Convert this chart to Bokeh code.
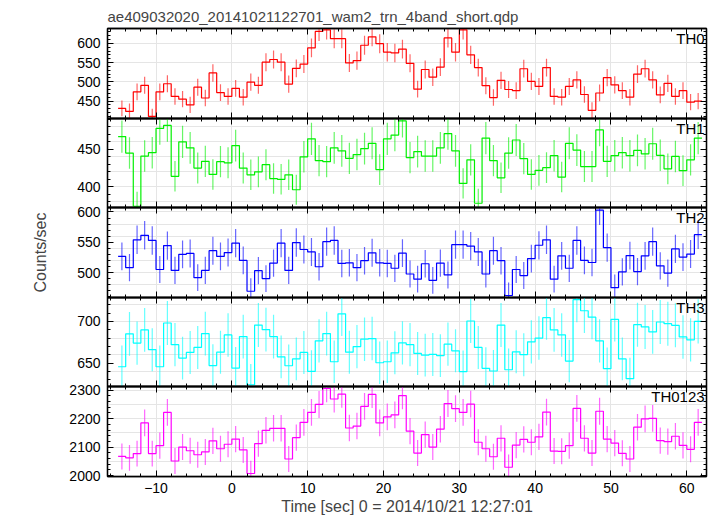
import numpy as np
from bokeh.plotting import figure
from bokeh.layouts import column
from bokeh.models import LinearAxis, Range1d, FixedTicker, Label, ColumnDataSource
from bokeh.embed import file_html
from bokeh.resources import INLINE

# ---------------- data (1 s bins, rate in counts/sec) ----------------
t_edges = list(range(-15, 63))          # bin edges [sec]

th0 = [431, 423, 474, 491, 410, 474, 495, 462, 455, 440, 486, 458, 523, 472, 462,
       483, 460, 499, 491, 551, 558, 551, 494, 535, 546, 588, 631, 635, 612, 612,
       549, 555, 595, 617, 599, 577, 575, 585, 548,
       481, 532, 512, 538, 614, 577, 635, 570, 537, 490, 459, 504, 480, 477, 534,
       501, 488, 537, 462, 460, 488, 505, 467, 426, 471, 511, 492, 477, 460, 520,
       534, 505, 466, 496, 462, 477, 447, 450]

th1 = [467, 445, 374, 441, 445.5, 478, 482, 414, 460, 452, 425, 434, 416.5, 433.5, 432,
       455, 425, 416, 420, 429.5, 411, 410, 416, 396, 440, 464, 435, 433.5, 452, 448,
       438, 443, 451, 458, 423, 464, 469, 488, 439,
       447, 441, 441, 452, 471, 448, 404.5, 436, 378, 465, 435, 412, 445, 462.5, 437.5,
       416.5, 422, 425.5, 441.5, 413, 458, 449, 427, 427, 476, 434, 441.5, 445.5, 441.5,
       448.5, 444, 457.5, 442, 424, 440.5, 421.5, 436, 465]

th2 = [526.5, 508, 554, 561.5, 553, 505, 544.5, 503.5, 530, 531.5, 491.5, 503.5, 536, 526.5, 533,
       548.5, 520, 469, 503, 490, 515.5, 548.5, 503.5, 549.5, 538, 534, 509.5, 551, 553, 515,
       516, 508, 519.5, 532.5, 516, 515, 507, 532, 497.5,
       489, 514.5, 487, 515.5, 496, 546, 546, 543.5, 534, 497.5, 536, 519.5, 462, 505, 495,
       523, 545, 554, 489, 527.5, 507, 553, 520, 516.5, 603, 541, 475, 501, 528,
       501.5, 527.5, 551, 511, 499, 539, 525.5, 530.5, 562.5]

th3 = [645.6, 685, 674, 689.7, 666, 645.6, 698, 672, 656, 662.7, 668.7, 685.3, 647, 663, 683.7,
       644, 681.7, 624, 695.6, 690, 681.7, 657.5, 646.8, 655, 662.7, 640, 676.6, 685.3, 651.6, 709,
       663, 669.8, 678.6, 679.4, 650.4, 651.6, 662.3, 674.2, 672,
       661.5, 659.5, 660.3, 659, 672.6, 664.7, 639.7, 700.4, 668.7, 643.7, 640.5, 695.6, 642, 663.5, 660,
       675.4, 680, 704.4, 689.7, 683.7, 652.4, 726, 712.7, 705, 676.6, 643.3, 702.4, 655, 631.3,
       696, 693.3, 687.3, 699.2, 697.2, 695.2, 681.3, 677.8, 700]

th0123 = [2067, 2062, 2077, 2185, 2077, 2105, 2222, 2051, 2100, 2087, 2073, 2083, 2122, 2094, 2110,
          2128, 2090, 2007, 2112, 2159, 2166, 2166, 2058, 2133, 2187, 2222, 2250, 2306, 2269, 2286,
          2167, 2174, 2243, 2285, 2185, 2206, 2213, 2281, 2156,
          2079, 2144, 2100, 2163, 2253, 2235, 2222, 2251, 2117, 2094, 2066, 2131, 2029, 2107, 2127,
          2117, 2136, 2223, 2086, 2085, 2105, 2236, 2131, 2079, 2226, 2128, 2114, 2078, 2058,
          2170, 2199, 2201, 2123, 2119, 2138, 2106, 2092, 2187]

band_names = ["TH0", "TH1", "TH2", "TH3", "TH0123"]
x_major = [-10, 0, 10, 20, 30, 40, 50, 60]
x_minor = list(range(-16, 63, 2))
y_major = [[450, 500, 550, 600], [400, 450], [500, 550, 600], [650, 700], [2000, 2100, 2200, 2300]]
y_minor = [list(range(410, 640, 10)), list(range(380, 491, 10)), list(range(460, 610, 10)),
           list(range(630, 730, 10)), list(range(2000, 2311, 20))]

title_text = "ae409032020_20141021122701_wam2_trn_4band_short.qdp"
xlabel = "Time [sec] 0 = 2014/10/21 12:27:01"
ylabel = "Counts/sec"

# ---------------- styling ----------------
FONT = "Liberation Sans"
colors = ["#ff0000", "#00f000", "#0000ff", "#00ffff", "#ff00ff"]
y_ranges = [(404.7, 638.5), (372.3, 491.2), (458.7, 607.4), (621.9, 728.6), (1996.5, 2313.0)]
frame_h = [90, 89, 90, 89, 90]
x_range = Range1d(-16.4, 62.6)
B = 8   # hidden overlap border between stacked panels

edges = np.array(t_edges, dtype=float)
centers = 0.5 * (edges[:-1] + edges[1:])
dt = edges[1:] - edges[:-1]


def make_axis(major, minor, labels, overrides=None, size="14px", standoff=7):
    ax = LinearAxis(ticker=FixedTicker(ticks=major, minor_ticks=minor))
    ax.major_tick_in = 6
    ax.major_tick_out = 0
    ax.minor_tick_in = 3
    ax.minor_tick_out = 0
    ax.axis_line_color = "black"
    ax.axis_line_width = 1.3
    ax.major_tick_line_color = "black"
    ax.minor_tick_line_color = "black"
    if labels:
        ax.major_label_text_font = FONT
        ax.major_label_text_font_size = size
        ax.major_label_text_color = "black"
        ax.major_label_standoff = standoff
        if overrides:
            ax.major_label_overrides = overrides
    else:
        ax.major_label_text_font_size = "0px"
        ax.major_label_text_color = None
        ax.major_label_text_alpha = 0
        ax.major_label_standoff = 0
    return ax


series = [th0, th1, th2, th3, th0123]
figs = []
for k in range(5):
    rate = np.array(series[k], dtype=float)
    err = np.sqrt(rate * dt) / dt   # Poisson error of the 1 s bins
    p = figure(frame_width=599, frame_height=frame_h[k], x_range=x_range,
               y_range=Range1d(*y_ranges[k]), output_backend="svg", toolbar_location=None,
               x_axis_location=None, y_axis_location=None,
               min_border_left=107, min_border_right=8,
               min_border_top=28 if k == 0 else B,
               min_border_bottom=0 if k == 4 else B,
               title=title_text if k == 0 else None)
    if k > 0:
        p.margin = (-2 * B, 0, 0, 0)
    p.background_fill_color = None
    p.border_fill_color = None
    p.outline_line_color = "black"
    p.outline_line_width = 1.3

    # axes
    left = make_axis(y_major[k], y_minor[k], True)
    if k == 2:
        left.axis_label = ylabel
        left.axis_label_text_font = FONT
        left.axis_label_text_font_size = "16px"
        left.axis_label_text_font_style = "normal"
        left.axis_label_standoff = 25
    p.add_layout(left, "left")
    p.add_layout(make_axis(y_major[k], y_minor[k], False), "right")
    p.add_layout(make_axis(x_major, x_minor, False), "above")
    if k == 4:
        bottom = make_axis(x_major, x_minor, True, overrides={-10: "\u221210"}, standoff=6)
        bottom.axis_label = xlabel
        bottom.axis_label_text_font = FONT
        bottom.axis_label_text_font_size = "16px"
        bottom.axis_label_text_font_style = "normal"
        bottom.axis_label_standoff = 2
        p.add_layout(bottom, "below")
    else:
        p.add_layout(make_axis(x_major, x_minor, False), "below")

    if k == 0:
        p.title.text_font = FONT
        p.title.text_font_size = "15px"
        p.title.text_font_style = "normal"
        p.title.align = "left"
        p.title.standoff = 8

    src = ColumnDataSource(dict(x=centers, y=rate, lo=rate - err, hi=rate + err))
    p.segment(x0="x", y0="lo", x1="x", y1="hi", source=src,
              line_color=colors[k], line_width=1.2, line_alpha=0.6)
    p.step(x=edges, y=np.append(rate, rate[-1]), mode="after",
           line_color=colors[k], line_width=1.2)

    lo, hi = y_ranges[k]
    p.add_layout(Label(x=x_range.end - 0.25, y=hi - (hi - lo) * 1.0 / frame_h[k],
                       text=band_names[k], text_align="right", text_baseline="top",
                       text_font=FONT, text_font_size="15px", text_color="black"))
    figs.append(p)

layout = column(*figs, spacing=0)
open("out.html", "w").write(file_html(layout, INLINE))
